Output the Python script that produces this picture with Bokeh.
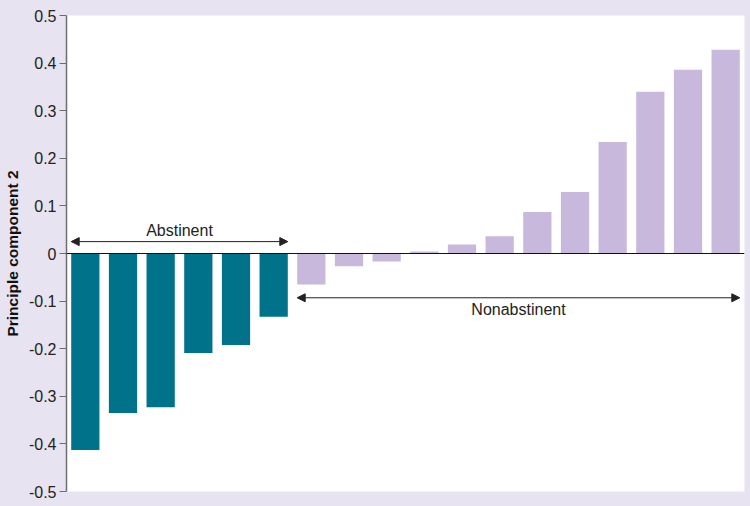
from bokeh.plotting import figure
from bokeh.models import ColumnDataSource, FixedTicker, Span, Arrow, NormalHead, Label, Range1d
from bokeh.embed import file_html
from bokeh.resources import INLINE

# ---- data ----
abstinent_values = [-0.413, -0.335, -0.323, -0.209, -0.192, -0.133]
nonabstinent_values = [-0.065, -0.027, -0.017, 0.004, 0.019, 0.036, 0.087, 0.129,
                       0.234, 0.340, 0.386, 0.428]
group_labels = ["Abstinent", "Nonabstinent"]
y_ticks = [-0.5, -0.4, -0.3, -0.2, -0.1, 0, 0.1, 0.2, 0.3, 0.4, 0.5]
y_tick_labels = ["-0.5", "-0.4", "-0.3", "-0.2", "-0.1", "0", "0.1", "0.2", "0.3", "0.4", "0.5"]
y_label = "Principle component 2"

TEAL = "#00728A"
LAV = "#C8B9DC"
BG = "#E7E3F0"
FONT = "Liberation Sans"

n_a = len(abstinent_values)
n_n = len(nonabstinent_values)
n = n_a + n_n
values = abstinent_values + nonabstinent_values
xs = [i + 0.5 for i in range(n)]
colors = [TEAL] * n_a + [LAV] * n_n
src = ColumnDataSource(dict(x=xs, top=values, color=colors))

p = figure(width=750, height=506, output_backend="svg", toolbar_location=None,
           x_range=Range1d(0, n), y_range=Range1d(-0.5, 0.5),
           x_axis_location=None, min_border_left=66, min_border_top=15,
           min_border_right=6, min_border_bottom=15)
p.background_fill_color = "white"
p.border_fill_color = BG
p.outline_line_color = None
p.grid.visible = False

p.vbar(x="x", top="top", bottom=0, width=0.75, color="color", source=src, line_color=None)

p.add_layout(Span(location=0, dimension="width", line_color="#111111", line_width=1.2))

ax = p.yaxis[0]
ax.ticker = FixedTicker(ticks=y_ticks)
ax.major_label_overrides = {t: l for t, l in zip(y_ticks, y_tick_labels)}
ax.axis_label = y_label
ax.axis_label_text_font = FONT
ax.axis_label_text_font_style = "bold"
ax.axis_label_text_font_size = "15.5px"
ax.axis_label_text_color = "#111111"
ax.axis_label_standoff = 5
ax.major_label_text_font = FONT
ax.major_label_text_font_size = "16px"
ax.major_label_text_color = "#222222"
ax.major_label_standoff = 3
ax.axis_line_color = "#6E6E6E"
ax.axis_line_width = 1.5
ax.major_tick_line_color = "#6E6E6E"
ax.major_tick_in = 0
ax.major_tick_out = 7
ax.minor_tick_line_color = None

inset = 0.125
head = dict(size=8, fill_color="#222222", line_color="#222222")
# Abstinent arrow
p.add_layout(Arrow(x_start=0 + inset, x_end=n_a - inset, y_start=0.025, y_end=0.025,
                   start=NormalHead(**head), end=NormalHead(**head),
                   line_color="#222222", line_width=1))
p.add_layout(Label(x=n_a / 2, y=0.049, text=group_labels[0], text_align="center",
                   text_baseline="middle", text_font=FONT, text_font_size="16px",
                   text_color="#222222"))
# Nonabstinent arrow
p.add_layout(Arrow(x_start=n_a + inset, x_end=n - inset, y_start=-0.093, y_end=-0.093,
                   start=NormalHead(**head), end=NormalHead(**head),
                   line_color="#222222", line_width=1))
p.add_layout(Label(x=n_a + n_n / 2, y=-0.118, text=group_labels[1], text_align="center",
                   text_baseline="middle", text_font=FONT, text_font_size="16px",
                   text_color="#222222"))

html = file_html(p, INLINE)
html = html.replace("<head>", "<head><style>body{background:%s;}</style>" % BG, 1)
open("out.html", "w").write(html)
